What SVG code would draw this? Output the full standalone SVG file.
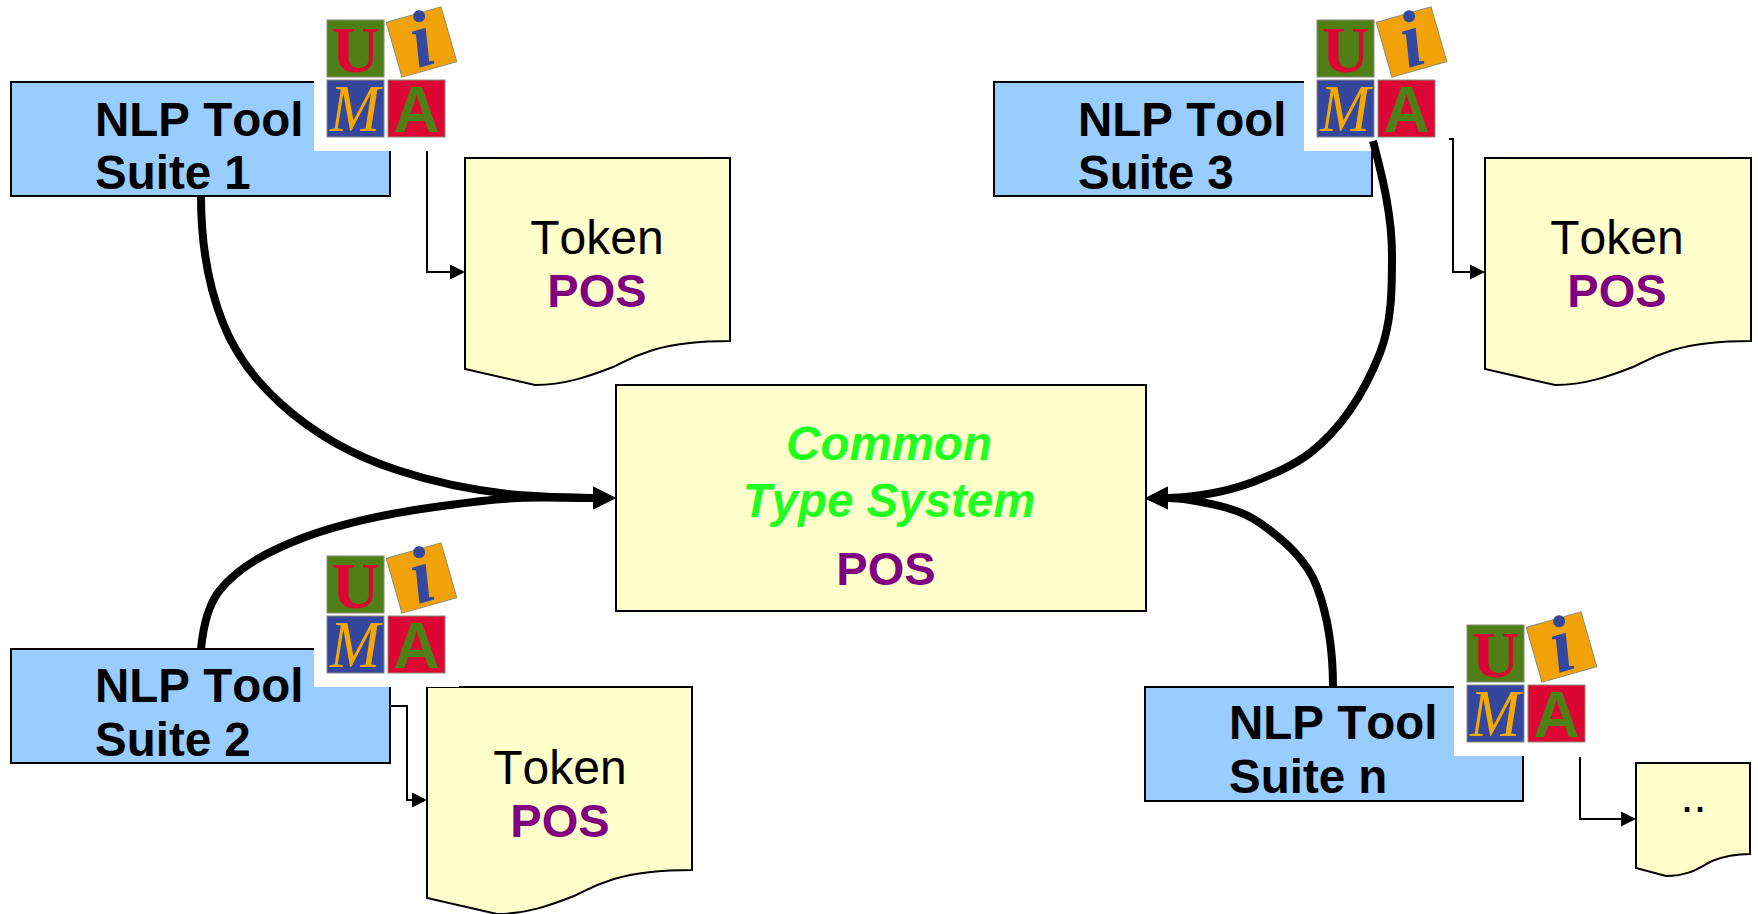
<svg xmlns="http://www.w3.org/2000/svg" width="1758" height="914" viewBox="0 0 1758 914">
<style>
text{font-family:"Liberation Sans",Arial,sans-serif;font-kerning:none}
.box{fill:#99ccff;stroke:#000;stroke-width:2}
.doc,.cts{fill:#ffffcc;stroke:#000;stroke-width:2}
.t{font-size:47.500px;font-weight:700;fill:#000}
.tok{font-size:48px;fill:#000;text-anchor:middle}
.pos{font-size:47px;font-weight:700;fill:#800080;text-anchor:middle}
.cm{font-size:47.500px;font-weight:700;font-style:italic;fill:#22ff22;text-anchor:middle}
.dots{font-size:47px;fill:#000;text-anchor:middle}
.thick{fill:none;stroke:#000;stroke-width:8;marker-end:url(#big)}
.thin{fill:none;stroke:#000;stroke-width:2;marker-end:url(#small)}
.lg{stroke-width:1;stroke:#8a8a7a}
.lu{font-family:"Liberation Serif",serif;font-size:66px;font-weight:700;fill:#dd0533;text-anchor:middle}
.lm{font-family:"Liberation Serif",serif;font-size:68px;font-style:italic;fill:#f5a800;text-anchor:middle}
.la{font-size:64px;font-weight:700;fill:#4f7f16;text-anchor:middle}
.li{font-family:"Liberation Serif",serif;font-size:80px;font-weight:700;font-style:italic;fill:#3548a0;text-anchor:middle}
</style>
<defs>
<marker id="big" markerUnits="userSpaceOnUse" markerWidth="24" markerHeight="24" refX="0" refY="12" orient="auto"><path d="M0,0.5L23,12L0,23.5Z" fill="#000"/></marker>
<marker id="small" markerUnits="userSpaceOnUse" markerWidth="16" markerHeight="16" refX="0" refY="8" orient="auto"><path d="M0,0.5L15,8L0,15.5Z" fill="#000"/></marker>
<g id="logo">
<rect x="-13" y="-13" width="145" height="144" fill="#fff"/>
<rect class="lg" width="57" height="57" fill="#4f7f16"/>
<text class="lu" x="28.500" y="52">U</text>
<rect class="lg" y="60" width="57" height="57" fill="#35479c"/>
<text class="lm" x="28" y="111" textLength="50" lengthAdjust="spacingAndGlyphs">M</text>
<rect class="lg" x="61" y="60" width="57" height="57" fill="#dd0533"/>
<text class="la" x="89.500" y="112">A</text>
<g transform="translate(94.500 22) rotate(-16)">
<rect class="lg" x="-28.500" y="-28.500" width="57" height="57" fill="#f0a208"/>
<text class="li" x="0" y="24">i</text>
</g>
</g>
</defs>
<rect width="1758" height="914" fill="#fff"/>
<g id="suite1-box"><rect class="box" x="11" y="82" width="379" height="114"/><text class="t" x="95" y="136">NLP Tool</text><text class="t" x="95" y="189">Suite 1</text></g>
<g id="suite3-box"><rect class="box" x="994" y="82" width="378" height="114"/><text class="t" x="1078" y="136">NLP Tool</text><text class="t" x="1078" y="189">Suite 3</text></g>
<g id="suite2-box"><rect class="box" x="11" y="649" width="379" height="114"/><text class="t" x="95" y="702">NLP Tool</text><text class="t" x="95" y="756">Suite 2</text></g>
<g id="suiten-box"><rect class="box" x="1145" y="687" width="378" height="114"/><text class="t" x="1229" y="739">NLP Tool</text><text class="t" x="1229" y="793">Suite n</text></g>
<g id="connectors-thin">
<path class="thin" d="M427,151V272H450"/>
<path class="thin" d="M1448,139H1453V272H1470"/>
<path class="thin" d="M390,706H407V800H412"/>
<path class="thin" d="M1580,757V819H1621"/>
</g>
<g id="common-type-system"><rect class="cts" x="616" y="385" width="530" height="226"/><text class="cm" x="889" y="460">Common</text><text class="cm" x="889" y="517">Type System</text><text class="pos" x="886" y="585">POS</text></g>
<g id="doc1"><path class="doc" d="M465,158h265v183c-36,0 -60,4 -77,9c-23,7 -33,14 -40,17c-23,9 -48,18 -78,18l-70,-16z"/><text class="tok" x="597" y="254">Token</text><text class="pos" x="597" y="307">POS</text></g>
<g id="doc3"><path class="doc" d="M1485,158h266v183c-36,0 -61,4 -78,9c-23,7 -33,14 -40,17c-23,9 -48,18 -78,18l-70,-16z"/><text class="tok" x="1617" y="254">Token</text><text class="pos" x="1617" y="307">POS</text></g>
<g id="doc2"><path class="doc" d="M427,687h265v183c-36,0 -61,4 -78,9c-23,7 -33,14 -40,17c-23,9 -47,18 -77,18l-70,-16z"/><text class="tok" x="560" y="784">Token</text><text class="pos" x="560" y="837">POS</text></g>
<g id="docn"><path class="doc" d="M1636,763H1750V854C1735,854 1722,857 1712,861C1700,867 1690,876 1666,876L1636,868Z"/><text class="dots" x="1693.500" y="812">..</text></g>
<g id="logo1"><use href="#logo" x="327" y="20"/></g>
<g id="logo3"><use href="#logo" x="1317" y="20"/></g>
<g id="logo2"><use href="#logo" x="327" y="556"/></g>
<g id="logon"><use href="#logo" x="1467" y="625"/></g>
<g id="connectors-thick">
<path class="thick" d="M201,196C201,239 207,283 223,323C235,354 256,381 280,403C313,433 354,456 397,470C436,483 477,491 518,495C543,497 568,498 593,498"/>
<path class="thick" d="M201,649C203,628 207,606 220,590C241,564 274,549 305,537C346,522 391,513 435,507C463,503 490,499 518,498C543,497 568,498 593,498"/>
<path class="thick" d="M1373,141C1383,179 1392,216 1392,255C1392,288 1392,322 1380,353C1365,391 1342,428 1310,453C1293,466 1273,474 1253,482C1226,492 1197,497 1168,498"/>
<path class="thick" d="M1333,687C1333,653 1329,619 1317,587C1307,560 1284,540 1260,523C1240,509 1214,504 1190,500C1183,499 1175,498 1168,498"/>
</g>
</svg>
